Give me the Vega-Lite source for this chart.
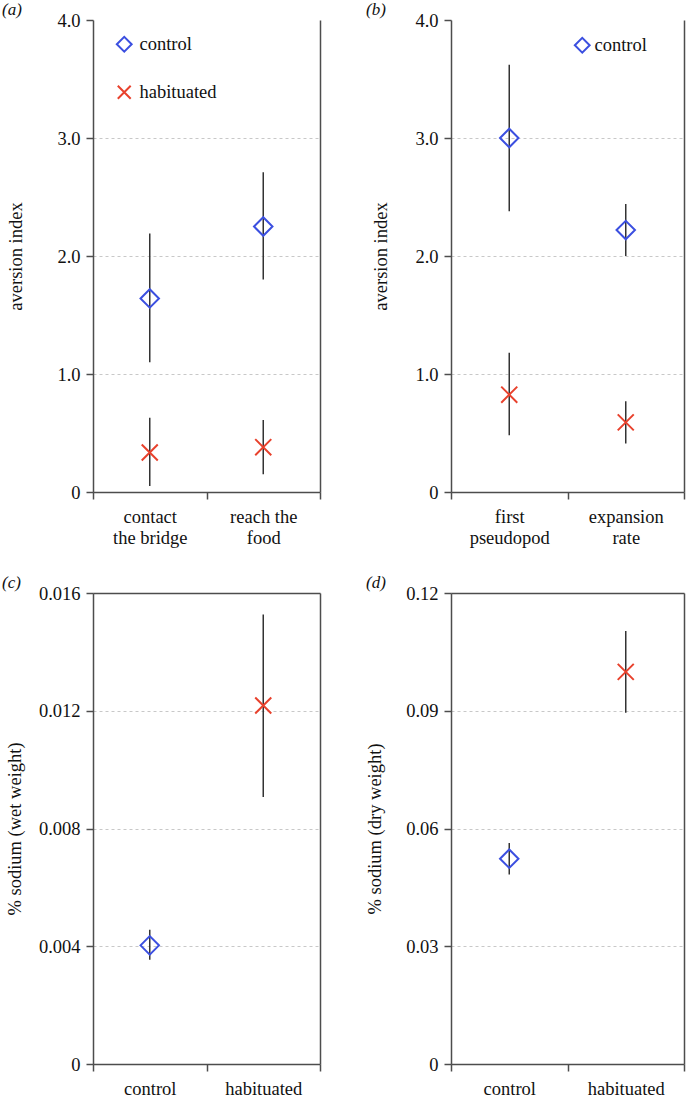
{
  "$schema": "https://vega.github.io/schema/vega-lite/v6.json",
  "background": "white",
  "padding": {"left": 2, "top": 1, "right": 1, "bottom": 2},
  "columns": 2,
  "spacing": {"row": 101, "column": 131},
  "bounds": "flush",
  "concat": [
    {
      "title": {"text": "(a)", "dx": -91},
      "width": 227,
      "height": 472,
      "data": {"values": [
        {"measure": "contact\nthe bridge", "group": "control", "mean": 1.64, "lo": 1.10, "hi": 2.19},
        {"measure": "reach the\nfood", "group": "control", "mean": 2.25, "lo": 1.80, "hi": 2.71},
        {"measure": "contact\nthe bridge", "group": "habituated", "mean": 0.335, "lo": 0.05, "hi": 0.63},
        {"measure": "reach the\nfood", "group": "habituated", "mean": 0.38, "lo": 0.15, "hi": 0.61}
      ]},
      "layer": [
        {
          "mark": {"type": "rule", "color": "#333333", "strokeWidth": 1.5},
          "encoding": {
            "x": {"field": "measure", "type": "nominal", "sort": null, "scale": {"paddingInner": 0, "paddingOuter": 0},
                  "axis": {"orient": "bottom", "title": null, "labelAngle": 0, "tickBand": "extent", "labelExpr": "split(datum.label, '\\n')", "labelLineHeight": 21, "labelPadding": 8}},
            "y": {"field": "lo", "type": "quantitative", "scale": {"domain": [0, 4]},
                  "axis": {"title": "aversion index", "values": [0, 1, 2, 3, 4], "labelExpr": "datum.value === 0 ? '0' : format(datum.value, '.1f')", "grid": true, "gridDash": [3, 3], "gridColor": "#c8c8c8", "gridOpacity": {"condition": {"test": "datum.value >= 4", "value": 0}, "value": 1}, "titleX": -72, "titleBaseline": "alphabetic"}},
            "y2": {"field": "hi"}
          }
        },
        {
          "mark": {"type": "point", "filled": false, "strokeWidth": 2, "opacity": 1, "size": 340},
          "encoding": {
            "x": {"field": "measure", "type": "nominal", "sort": null, "axis": null},
            "y": {"field": "mean", "type": "quantitative", "axis": {"orient": "right", "labels": false, "ticks": false, "grid": false, "title": null, "domain": true}},
            "color": {"field": "group", "type": "nominal", "scale": {"domain": ["control", "habituated"], "range": ["#3b4fe0", "#e8412c"]},
                      "legend": {"orient": "none", "legendX": 22, "legendY": 15, "title": null, "labelFontSize": 18.5, "labelFont": "Liberation Serif, Times New Roman, DejaVu Serif, serif", "labelColor": "#111", "symbolSize": 220, "symbolStrokeWidth": 2, "rowPadding": 25, "labelOffset": 6, "padding": 0}},
            "shape": {"field": "group", "type": "nominal", "scale": {"domain": ["control", "habituated"], "range": ["diamond", "M-0.87,-0.87L0.87,0.87M-0.87,0.87L0.87,-0.87"]},
                      "legend": {"orient": "none", "legendX": 22, "legendY": 15, "title": null, "labelFontSize": 18.5, "labelFont": "Liberation Serif, Times New Roman, DejaVu Serif, serif", "labelColor": "#111", "symbolSize": 220, "symbolStrokeWidth": 2, "rowPadding": 25, "labelOffset": 6, "padding": 0}}
          }
        }
      ],
      "resolve": {"axis": {"y": "independent", "x": "independent"}}
    },
    {
      "title": {"text": "(b)", "dx": -85},
      "width": 233,
      "height": 472,
      "data": {"values": [
        {"measure": "first\npseudopod", "group": "control", "mean": 3.0, "lo": 2.38, "hi": 3.62},
        {"measure": "expansion\nrate", "group": "control", "mean": 2.22, "lo": 2.00, "hi": 2.44},
        {"measure": "first\npseudopod", "group": "habituated", "mean": 0.825, "lo": 0.48, "hi": 1.18},
        {"measure": "expansion\nrate", "group": "habituated", "mean": 0.59, "lo": 0.41, "hi": 0.77}
      ]},
      "layer": [
        {
          "mark": {"type": "rule", "color": "#333333", "strokeWidth": 1.5},
          "encoding": {
            "x": {"field": "measure", "type": "nominal", "sort": null, "scale": {"paddingInner": 0, "paddingOuter": 0},
                  "axis": {"orient": "bottom", "title": null, "labelAngle": 0, "tickBand": "extent", "labelExpr": "split(datum.label, '\\n')", "labelLineHeight": 21, "labelPadding": 8}},
            "y": {"field": "lo", "type": "quantitative", "scale": {"domain": [0, 4]},
                  "axis": {"title": "aversion index", "values": [0, 1, 2, 3, 4], "labelExpr": "datum.value === 0 ? '0' : format(datum.value, '.1f')", "grid": true, "gridDash": [3, 3], "gridColor": "#c8c8c8", "gridOpacity": {"condition": {"test": "datum.value >= 4", "value": 0}, "value": 1}, "titleX": -65, "titleBaseline": "alphabetic"}},
            "y2": {"field": "hi"}
          }
        },
        {
          "mark": {"type": "point", "filled": false, "strokeWidth": 2, "opacity": 1, "size": 340},
          "encoding": {
            "x": {"field": "measure", "type": "nominal", "sort": null, "axis": null},
            "y": {"field": "mean", "type": "quantitative", "axis": {"orient": "right", "labels": false, "ticks": false, "grid": false, "title": null, "domain": true}},
            "color": {"field": "group", "type": "nominal", "scale": {"domain": ["control", "habituated"], "range": ["#3b4fe0", "#e8412c"]},
                      "legend": {"values": ["control"], "orient": "none", "legendX": 122, "legendY": 16, "title": null, "labelFontSize": 18.5, "labelFont": "Liberation Serif, Times New Roman, DejaVu Serif, serif", "labelColor": "#111", "symbolSize": 220, "symbolStrokeWidth": 2, "labelOffset": 3, "padding": 0}},
            "shape": {"field": "group", "type": "nominal", "scale": {"domain": ["control", "habituated"], "range": ["diamond", "M-0.87,-0.87L0.87,0.87M-0.87,0.87L0.87,-0.87"]},
                      "legend": {"values": ["control"], "orient": "none", "legendX": 122, "legendY": 16, "title": null, "labelFontSize": 18.5, "labelFont": "Liberation Serif, Times New Roman, DejaVu Serif, serif", "labelColor": "#111", "symbolSize": 220, "symbolStrokeWidth": 2, "labelOffset": 3, "padding": 0}}
          }
        }
      ],
      "resolve": {"axis": {"y": "independent", "x": "independent"}}
    },
    {
      "title": {"text": "(c)", "dx": -91},
      "width": 227,
      "height": 471,
      "data": {"values": [
        {"group": "control", "mean": 0.00403, "lo": 0.00354, "hi": 0.00456},
        {"group": "habituated", "mean": 0.01218, "lo": 0.00907, "hi": 0.01527}
      ]},
      "layer": [
        {
          "mark": {"type": "rule", "color": "#333333", "strokeWidth": 1.5},
          "encoding": {
            "x": {"field": "group", "type": "nominal", "sort": null, "scale": {"paddingInner": 0, "paddingOuter": 0},
                  "axis": {"orient": "bottom", "title": null, "labelAngle": 0, "tickBand": "extent", "labelPadding": 8}},
            "y": {"field": "lo", "type": "quantitative", "scale": {"domain": [0, 0.016]},
                  "axis": {"title": "% sodium (wet weight)", "values": [0, 0.004, 0.008, 0.012, 0.016], "labelExpr": "datum.value === 0 ? '0' : format(datum.value, '.3f')", "grid": true, "gridDash": [3, 3], "gridColor": "#c8c8c8", "titleX": -73, "titleBaseline": "alphabetic"}},
            "y2": {"field": "hi"}
          }
        },
        {
          "mark": {"type": "point", "filled": false, "strokeWidth": 2, "opacity": 1, "size": 340},
          "encoding": {
            "x": {"field": "group", "type": "nominal", "sort": null, "axis": {"orient": "top", "labels": false, "ticks": false, "title": null, "domain": true}},
            "y": {"field": "mean", "type": "quantitative", "axis": {"orient": "right", "labels": false, "ticks": false, "grid": false, "title": null, "domain": true}},
            "color": {"field": "group", "type": "nominal", "scale": {"domain": ["control", "habituated"], "range": ["#3b4fe0", "#e8412c"]}, "legend": null},
            "shape": {"field": "group", "type": "nominal", "scale": {"domain": ["control", "habituated"], "range": ["diamond", "M-0.87,-0.87L0.87,0.87M-0.87,0.87L0.87,-0.87"]}, "legend": null}
          }
        }
      ],
      "resolve": {"axis": {"y": "independent", "x": "independent"}}
    },
    {
      "title": {"text": "(d)", "dx": -85},
      "width": 233,
      "height": 471,
      "data": {"values": [
        {"group": "control", "mean": 0.0523, "lo": 0.0483, "hi": 0.0563},
        {"group": "habituated", "mean": 0.0999, "lo": 0.0895, "hi": 0.1103}
      ]},
      "layer": [
        {
          "mark": {"type": "rule", "color": "#333333", "strokeWidth": 1.5},
          "encoding": {
            "x": {"field": "group", "type": "nominal", "sort": null, "scale": {"paddingInner": 0, "paddingOuter": 0},
                  "axis": {"orient": "bottom", "title": null, "labelAngle": 0, "tickBand": "extent", "labelPadding": 8}},
            "y": {"field": "lo", "type": "quantitative", "scale": {"domain": [0, 0.12]},
                  "axis": {"title": "% sodium (dry weight)", "values": [0, 0.03, 0.06, 0.09, 0.12], "labelExpr": "datum.value === 0 ? '0' : format(datum.value, '.2f')", "grid": true, "gridDash": [3, 3], "gridColor": "#c8c8c8", "titleX": -71, "titleBaseline": "alphabetic"}},
            "y2": {"field": "hi"}
          }
        },
        {
          "mark": {"type": "point", "filled": false, "strokeWidth": 2, "opacity": 1, "size": 340},
          "encoding": {
            "x": {"field": "group", "type": "nominal", "sort": null, "axis": {"orient": "top", "labels": false, "ticks": false, "title": null, "domain": true}},
            "y": {"field": "mean", "type": "quantitative", "axis": {"orient": "right", "labels": false, "ticks": false, "grid": false, "title": null, "domain": true}},
            "color": {"field": "group", "type": "nominal", "scale": {"domain": ["control", "habituated"], "range": ["#3b4fe0", "#e8412c"]}, "legend": null},
            "shape": {"field": "group", "type": "nominal", "scale": {"domain": ["control", "habituated"], "range": ["diamond", "M-0.87,-0.87L0.87,0.87M-0.87,0.87L0.87,-0.87"]}, "legend": null}
          }
        }
      ],
      "resolve": {"axis": {"y": "independent", "x": "independent"}}
    }
  ],
  "resolve": {"scale": {"color": "independent", "shape": "independent", "x": "independent", "y": "independent"}, "legend": {"color": "independent", "shape": "independent"}},
  "config": {
    "font": "Liberation Serif, Times New Roman, DejaVu Serif, serif",
    "view": {"stroke": null},
    "axis": {"labelFont": "Liberation Serif, Times New Roman, DejaVu Serif, serif", "titleFont": "Liberation Serif, Times New Roman, DejaVu Serif, serif", "labelFontSize": 18.5, "titleFontSize": 18.5, "titleFontWeight": "normal", "labelColor": "#111111", "titleColor": "#111111", "domainColor": "#4d4d4d", "domainWidth": 1.5, "tickColor": "#4d4d4d", "tickWidth": 1.5, "tickSize": 7, "labelPadding": 6, "grid": false},
    "legend": {"labelFont": "Liberation Serif, Times New Roman, DejaVu Serif, serif"},
    "title": {"anchor": "start", "frame": "group", "offset": -8, "fontSize": 17, "fontStyle": "italic", "fontWeight": "normal", "font": "Liberation Serif, Times New Roman, DejaVu Serif, serif", "color": "#111111"}
  }
}
